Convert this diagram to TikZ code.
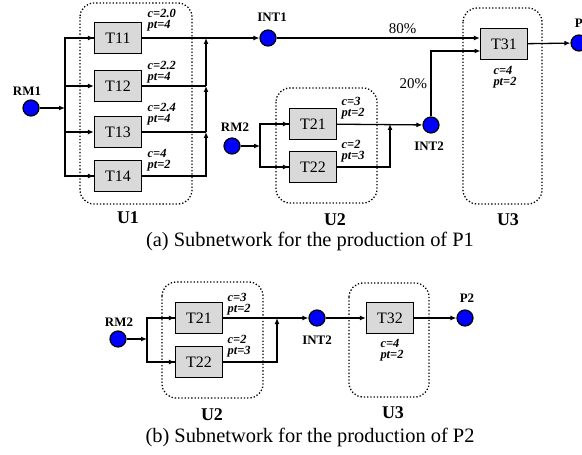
\documentclass[tikz,border=0pt]{standalone}
\usepackage{fontspec}
\setmainfont{Liberation Serif}
\usetikzlibrary{arrows.meta}

\begin{document}
\begin{tikzpicture}[x=1bp,y=-1bp,line width=1.3bp,
  >={Latex[length=6bp,width=5bp]},
  task/.style={draw,fill=gray!30,minimum width=47bp,minimum height=31bp,
    inner sep=0pt,font=\fontsize{16}{17}\selectfont},
  state/.style={circle,draw,fill=blue,minimum size=16bp,inner sep=0pt,line width=1.2bp},
  unit/.style={draw,dotted,rounded corners=14bp,line width=1.3bp},
  lbl/.style={font=\fontsize{13}{14}\selectfont\bfseries},
  ulbl/.style={font=\fontsize{18}{20}\selectfont\bfseries},
  param/.style={font=\fontsize{12.5}{11.5}\selectfont\bfseries\itshape,align=left,inner sep=0pt},
  captxt/.style={font=\fontsize{20.5}{22}\selectfont}]

\useasboundingbox (0,0) rectangle (582,455);

% ---------- (a) Subnetz P1 ----------

% Einheiten (gepunktet)
\draw[unit] (80,3) rectangle (192,204);
\draw[unit] (276,88) rectangle (377,203);
\draw[unit] (463,8) rectangle (542,204);
\node[ulbl] (U1a) at (128,218) {U1};
\node[ulbl] (U2a) at (335,220) {U2};
\node[ulbl] (U3a) at (508,220) {U3};

% Zustaende
\node[state] (RM1) at (31,108) {};
\node[state] (INT1) at (268,38) {};
\node[state] (RM2a) at (232,146) {};
\node[state] (INT2a) at (431,125) {};
\node[state] (P1) at (579,43) {};
\node[lbl] (RM1lbl) at (27,91) {RM1};
\node[lbl] (INT1lbl) at (272,17) {INT1};
\node[lbl] (RM2albl) at (235,127) {RM2};
\node[lbl] (INT2albl) at (429,146) {INT2};
\node[lbl] (P1lbl) at (582,23) {P1};

% Tasks
\node[task] (T11) at (118,38) {T11};
\node[task] (T12) at (118,86) {T12};
\node[task] (T13) at (118,132) {T13};
\node[task] (T14) at (118,176) {T14};
\node[task] (T21a) at (313,124) {T21};
\node[task] (T22a) at (313,167) {T22};
\node[task] (T31) at (504,44) {T31};

% Kapazitaet / Bearbeitungszeit
\node[param,anchor=west] (c11) at (147,20) {c=2.0\\pt=4};
\node[param,anchor=west] (c12) at (147,72) {c=2.2\\pt=4};
\node[param,anchor=west] (c13) at (147,114) {c=2.4\\pt=4};
\node[param,anchor=west] (c14) at (147,160) {c=4\\pt=2};
\node[param,anchor=west] (c21a) at (341,108) {c=3\\pt=2};
\node[param,anchor=west] (c22a) at (341,151) {c=2\\pt=3};
\node[param] (c31) at (505,77) {c=4\\pt=2};

% Verzweigungen
\coordinate (s1) at (65,108);
\coordinate (m1) at (206,38);
\coordinate (m2) at (206,86);
\coordinate (m3) at (206,132);
\coordinate (s2) at (260,146);
\coordinate (m5) at (390,124);
\coordinate (t31in) at (480.5,51);

\draw[->] (RM1) -- (s1);
\draw (s1) |- (T11.west);
\draw (s1) |- (T14.west);
\draw[->] (65,38) -- (T11);
\draw[->] (s1 |- T12) -- (T12);
\draw[->] (s1 |- T13) -- (T13);
\draw[->] (65,176) -- (T14);

\draw[->] (T14) -| (m3);
\draw (T13) -- (m3);
\draw[->] (m3) -- (m2);
\draw (T12) -- (m2);
\draw[->] (m2) -- (m1);
\draw[->] (T11) -- (INT1);

\draw[->] (RM2a) -- (s2);
\draw (s2) |- (T21a.west);
\draw (s2) |- (T22a.west);
\draw[->] (s2 |- T21a) -- (T21a);
\draw[->] (s2 |- T22a) -- (T22a);
\draw[->] (T22a) -| (m5);
\draw[->] (T21a) -- (INT2a);

\draw[->] (INT1) -- node[above,pos=0.62,font=\fontsize{15}{16}\selectfont] (pct80) {80\%} (INT1 -| T31.west);
\draw[->] (INT2a) -- node[left,font=\fontsize{15}{16}\selectfont] (pct20) {20\%} (INT2a |- t31in) -- (t31in);
\draw[->] (T31) -- (P1);

\node[captxt] (capa) at (310,241) {(a) Subnetwork for the production of P1};

% ---------- (b) Subnetz P2 ----------

\draw[unit] (162,282) rectangle (263,398);
\draw[unit] (349,283) rectangle (429,397);
\node[ulbl] (U2b) at (212,415) {U2};
\node[ulbl] (U3b) at (393,413) {U3};

\node[state] (RM2b) at (118,339) {};
\node[state] (INT2b) at (317,318) {};
\node[state] (P2) at (465,318) {};
\node[lbl] (RM2blbl) at (119,322) {RM2};
\node[lbl] (INT2blbl) at (317,340) {INT2};
\node[lbl] (P2lbl) at (467,298) {P2};

\node[task] (T21b) at (199,318) {T21};
\node[task] (T22b) at (199,362) {T22};
\node[task] (T32) at (390,318) {T32};

\node[param,anchor=west] (c21b) at (227,304) {c=3\\pt=2};
\node[param,anchor=west] (c22b) at (227,346) {c=2\\pt=3};
\node[param] (c32) at (392,350) {c=4\\pt=2};

\coordinate (s3) at (147,339);
\coordinate (m6) at (277,318);

\draw[->] (RM2b) -- (s3);
\draw (s3) |- (T21b.west);
\draw (s3) |- (T22b.west);
\draw[->] (s3 |- T21b) -- (T21b);
\draw[->] (s3 |- T22b) -- (T22b);
\draw[->] (T22b) -| (m6);
\draw[->] (T21b) -- (INT2b);
\draw[->] (INT2b) -- (T32);
\draw[->] (T32) -- (P2);

\node[captxt] (capb) at (310,437) {(b) Subnetwork for the production of P2};

\end{tikzpicture}
\end{document}
